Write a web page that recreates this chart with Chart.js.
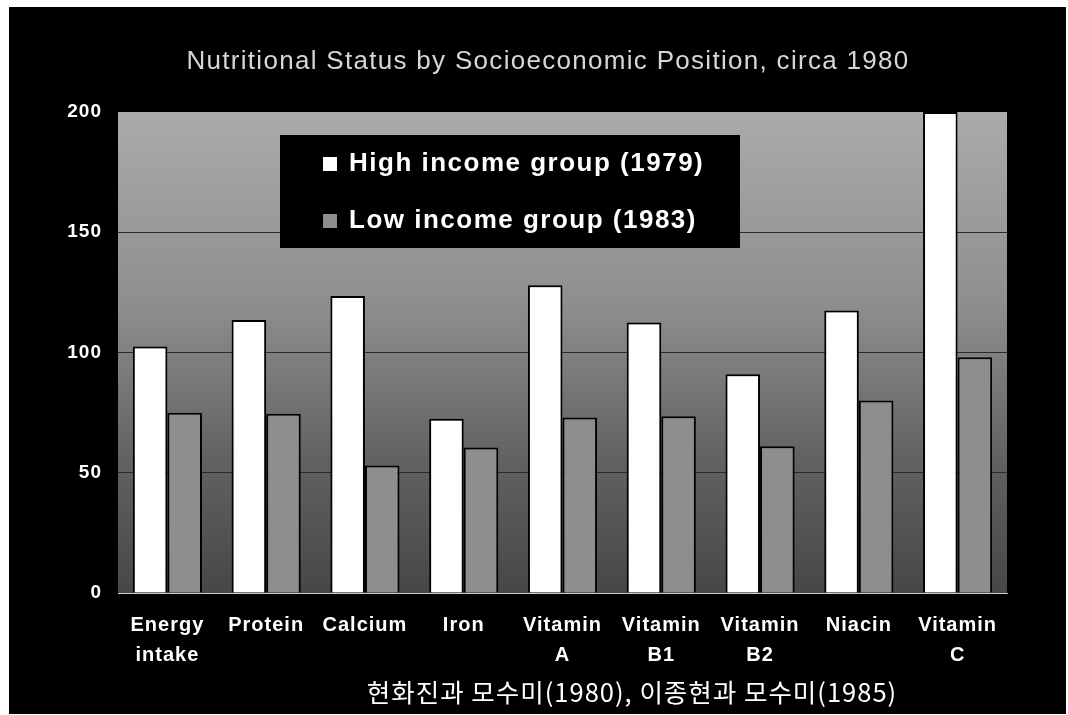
<!DOCTYPE html>
<html>
<head>
<meta charset="utf-8">
<script src="https://cdn.jsdelivr.net/npm/chart.js@4"></script>
<style>
  html, body { margin: 0; padding: 0; background: #fff; }
  #wrap { width: 1068px; height: 715px; }
</style>
</head>
<body>
<div id="wrap"><canvas id="chart" width="1068" height="715"></canvas></div>
<script>
// ── Data ────────────────────────────────────────────────
const categories = [
  ['Energy', 'intake'], 'Protein', 'Calcium', 'Iron',
  ['Vitamin', 'A'], ['Vitamin', 'B1'], ['Vitamin', 'B2'], 'Niacin', ['Vitamin', 'C']
];
const highIncome = [102.5, 113.5, 123.5, 72.5, 128, 112.5, 91, 117.5, 200];
const lowIncome  = [75, 74.5, 53, 60.5, 73, 73.5, 61, 80, 98];
const seriesNames = ['High income group (1979)', 'Low income group (1983)'];
const yTicks = [0, 50, 100, 150, 200];
const titleText  = 'Nutritional Status by Socioeconomic Position, circa 1980';
const sourceText = '현화진과 모수미(1980), 이종현과 모수미(1985)';

const SANS = "'Liberation Sans', Arial, sans-serif";

// ── Frame, plot background, title, legend box, source line ─
const backdrop = {
  id: 'backdrop',
  beforeDraw(chart) {
    const { ctx, chartArea: a } = chart;
    ctx.save();
    ctx.fillStyle = '#ffffff';
    ctx.fillRect(0, 0, chart.width, chart.height);
    ctx.fillStyle = '#000000';
    ctx.fillRect(9, 7, 1057, 707);
    const g = ctx.createLinearGradient(0, a.top, 0, a.bottom);
    g.addColorStop(0, '#ababab');
    g.addColorStop(0.4, '#8e8e8e');
    g.addColorStop(0.72, '#626262');
    g.addColorStop(1, '#474747');
    ctx.fillStyle = g;
    ctx.fillRect(a.left, a.top, a.right - a.left, a.bottom - a.top);
    // title (centred a little right of the canvas, like the original)
    ctx.letterSpacing = '1.3px';
    ctx.fillStyle = '#d6d6d6';
    ctx.font = '26px ' + SANS;
    ctx.textAlign = 'center';
    ctx.textBaseline = 'middle';
    ctx.fillText(titleText, 548, 62);
    ctx.restore();
    // the original lettering is loosely spaced
    ctx.letterSpacing = '1px';
  },
  afterDraw(chart) {
    const { ctx } = chart;
    ctx.save();
    // legend
    ctx.fillStyle = '#000';
    ctx.fillRect(280, 135, 460, 113);
    ctx.letterSpacing = '1.5px';
    chart.data.datasets.forEach((ds, i) => {
      const cy = 164 + i * 57;
      ctx.fillStyle = ds.backgroundColor;
      ctx.fillRect(323, cy - 7, 14, 14);
      ctx.fillStyle = '#fff';
      ctx.font = 'bold 26px ' + SANS;
      ctx.textBaseline = 'middle';
      ctx.textAlign = 'left';
      ctx.fillText(ds.label, 349, cy);
    });
    // source
    ctx.letterSpacing = '1px';
    ctx.fillStyle = '#fff';
    ctx.font = "25.5px 'Noto Sans CJK KR', sans-serif";
    ctx.textAlign = 'center';
    ctx.textBaseline = 'middle';
    ctx.fillText(sourceText, 632, 692);
    ctx.restore();
  }
};

new Chart(document.getElementById('chart'), {
  type: 'bar',
  data: {
    labels: categories,
    datasets: [
      {
        label: seriesNames[0],
        data: highIncome,
        backgroundColor: '#ffffff',
        borderColor: '#000000',
        borderWidth: 2,
      },
      {
        label: seriesNames[1],
        data: lowIncome,
        backgroundColor: '#8e8e8e',
        borderColor: '#000000',
        borderWidth: 2,
      }
    ]
  },
  options: {
    responsive: false,
    animation: false,
    datasets: { bar: { categoryPercentage: 0.7, barPercentage: 1.0 } },
    layout: { padding: { left: 28, right: 61, top: 112, bottom: 0 } },
    plugins: {
      legend: { display: false },
      tooltip: { enabled: false },
      title: { display: false }
    },
    scales: {
      y: {
        min: 0,
        max: 200,
        afterBuildTicks: s => { s.ticks = yTicks.map(v => ({ value: v })); },
        afterFit: s => { s.width = 90; },
        grid: {
          color: c => (c.tick.value > 0 && c.tick.value < 200) ? '#2b2b2b' : 'rgba(0,0,0,0)',
          drawTicks: false
        },
        border: { display: false },
        ticks: {
          color: '#fff',
          padding: 16,
          font: { family: SANS, size: 19, weight: 'bold' }
        }
      },
      x: {
        afterFit: s => { s.height = 122; },
        grid: { display: false, drawTicks: false },
        border: { color: '#c8c8c8', width: 1 },
        ticks: {
          color: '#fff',
          padding: 17,
          maxRotation: 0,
          autoSkip: false,
          font: { family: SANS, size: 20, weight: 'bold', lineHeight: 1.5 }
        }
      }
    }
  },
  plugins: [backdrop]
});
</script>
</body>
</html>
